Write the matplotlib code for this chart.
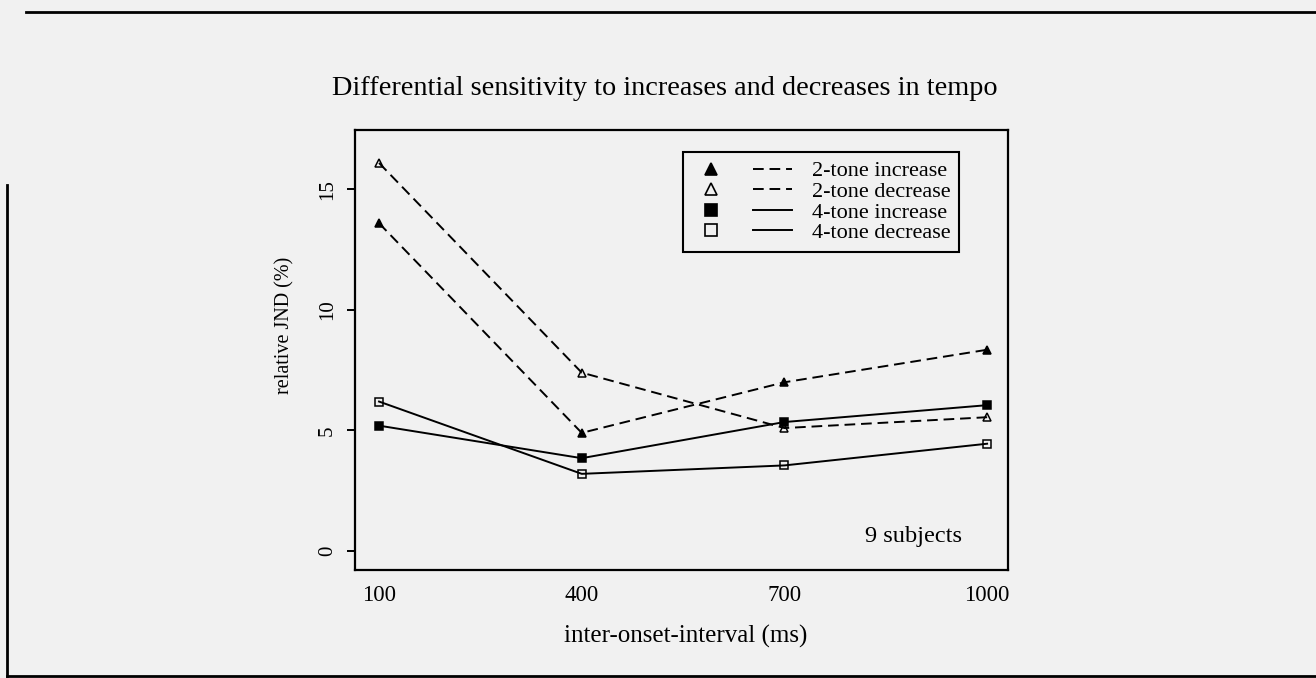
# Differential sensitivity to tempo changes (scanned figure recreation)

import matplotlib.pyplot as plt
from matplotlib.lines import Line2D
from matplotlib.legend_handler import HandlerTuple

plt.rcParams['font.family'] = ['Liberation Serif', 'DejaVu Serif']

# data
ioi = [100, 400, 700, 1000]
two_tone_inc = [13.6, 4.9, 7.0, 8.35]
two_tone_dec = [16.1, 7.4, 5.1, 5.55]
four_tone_inc = [5.2, 3.85, 5.35, 6.05]
four_tone_dec = [6.2, 3.2, 3.55, 4.45]

dash = (0, (5.5, 3))
series = [
    ('2-tone increase', two_tone_inc, '^', 'k', dash),
    ('2-tone decrease', two_tone_dec, '^', 'none', dash),
    ('4-tone increase', four_tone_inc, 's', 'k', '-'),
    ('4-tone decrease', four_tone_dec, 's', 'none', '-'),
]

bg = '#f1f1f1'
fig = plt.figure(figsize=(13.16, 6.78), dpi=100, facecolor=bg)
ax = fig.add_axes([0.2698, 0.1593, 0.4962, 0.649])
ax.set_facecolor(bg)

handles = []
for label, vals, mk, fc, ls in series:
    ax.plot(ioi, vals, color='k', linestyle=ls, linewidth=1.4,
            marker=mk, markersize=5.5, markerfacecolor=fc,
            markeredgecolor='k', markeredgewidth=1.1)
    m = Line2D([], [], linestyle='none', marker=mk, markersize=9,
               markerfacecolor=fc, markeredgecolor='k', markeredgewidth=1.2)
    l = Line2D([], [], linestyle=ls, color='k', linewidth=1.4)
    handles.append((m, l))

ax.set_xlim(64.5, 1031)
ax.set_ylim(-0.79, 17.47)
ax.set_xticks(ioi)
ax.set_yticks([0, 5, 10, 15])
ax.tick_params(axis='x', length=0, pad=11, labelsize=16.5)
ax.tick_params(axis='y', length=6, width=1.4, pad=7, labelsize=15,
               labelrotation=90)
for t in ax.get_yticklabels():
    t.set_va('center')

for s in ax.spines.values():
    s.set_linewidth(1.6)

ax.set_xlabel('inter-onset-interval (ms)', fontsize=18)
ax.xaxis.set_label_coords(0.507, -0.125)
ax.set_ylabel('relative JND (%)', fontsize=14.5)
ax.yaxis.set_label_coords(-0.092, 0.557)

leg = ax.legend(handles, [s[0] for s in series],
                handler_map={tuple: HandlerTuple(ndivide=None, pad=1.0)},
                loc='upper left', bbox_to_anchor=(0.502, 0.95),
                borderaxespad=0, fancybox=False, framealpha=1,
                edgecolor='k', facecolor=bg, fontsize=16,
                handlelength=4.5, handletextpad=0.9, labelspacing=0.0,
                borderpad=0.4)
leg.get_frame().set_linewidth(1.5)

ax.text(0.855, 0.077, '9 subjects', transform=ax.transAxes,
        ha='center', va='center', fontsize=17.5)

fig.text(0.5055, 0.870,
         'Differential sensitivity to increases and decreases in tempo',
         ha='center', va='center', fontsize=20.3)

# page frame of the scan
fig.add_artist(Line2D([0.02, 1.0], [0.982, 0.982], color='k', lw=2))
fig.add_artist(Line2D([0.005, 0.005], [0.003, 0.727], color='k', lw=2))
fig.add_artist(Line2D([0.005, 1.0], [0.003, 0.003], color='k', lw=2))

fig.savefig('out.png', dpi=100, facecolor=bg)
